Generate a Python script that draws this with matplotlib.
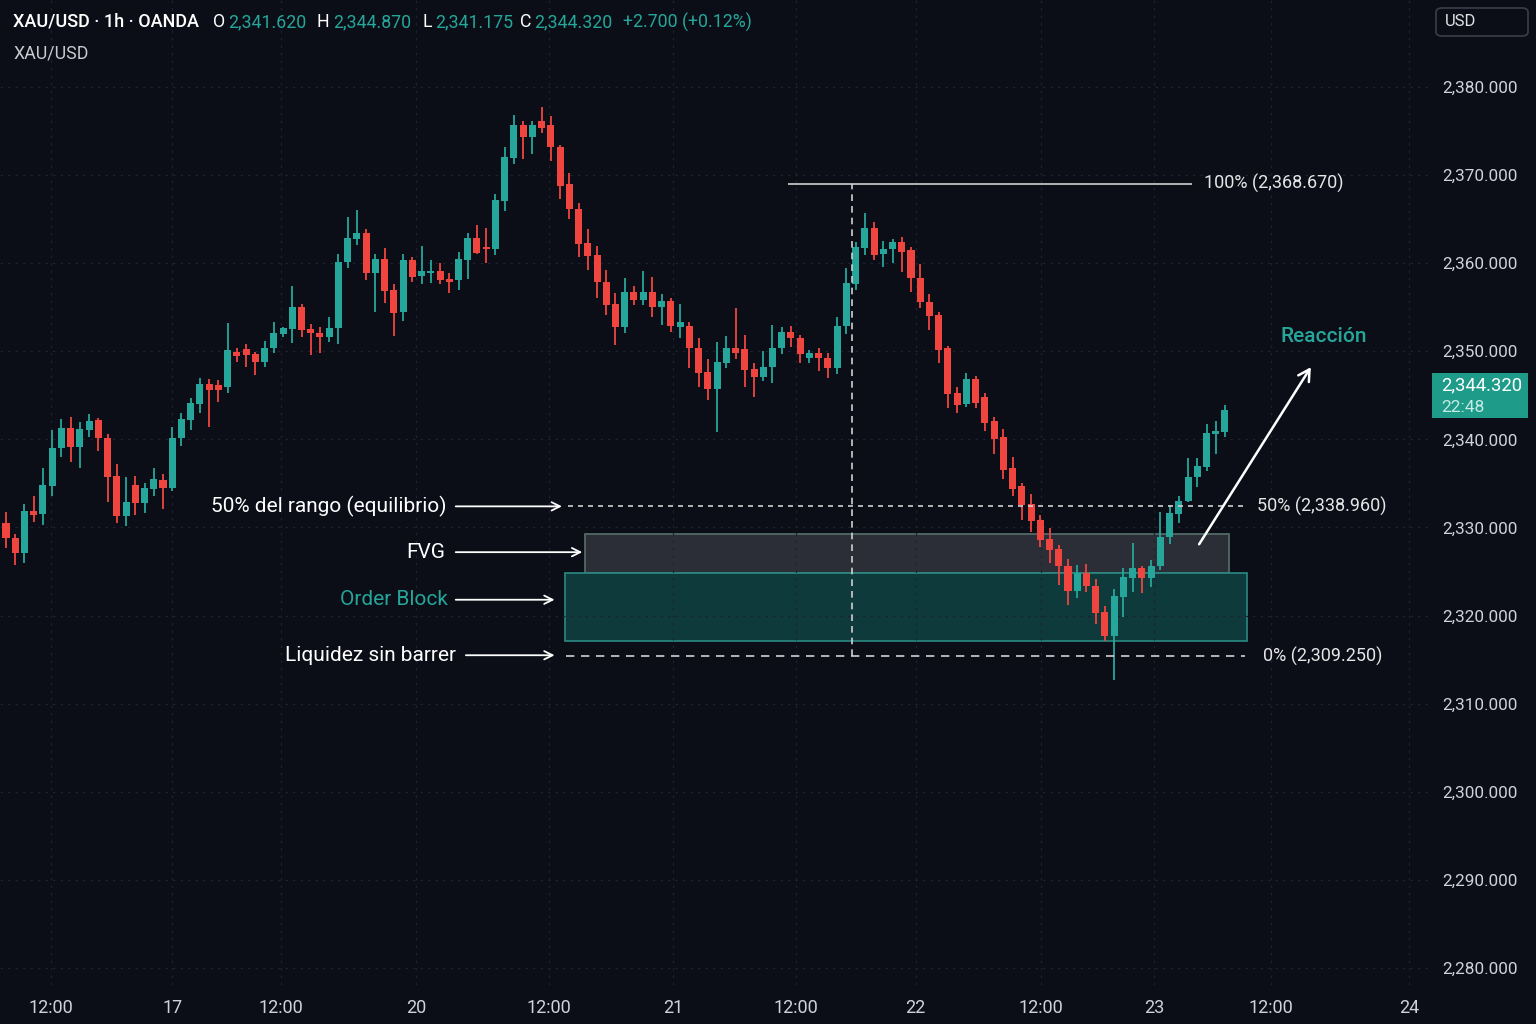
import numpy as np
import matplotlib.pyplot as plt
from matplotlib.patches import Rectangle, FancyBboxPatch

plt.rcParams['font.family'] = ['Roboto', 'DejaVu Sans']

# Velas 1h XAU/USD
o = [2330.5, 2328.8, 2327.1, 2331.9, 2331.5, 2334.7, 2339.0, 2341.3, 2339.1, 2341.1,
     2342.2, 2340.2, 2335.8, 2331.3, 2334.8, 2332.8, 2334.4, 2335.4, 2334.5, 2340.2,
     2342.2, 2344.0, 2346.3, 2346.2, 2345.9, 2349.9, 2350.3, 2349.7, 2348.8, 2350.4,
     2352.0, 2352.5, 2355.0, 2352.5, 2352.1, 2351.6, 2352.6, 2360.1, 2362.8, 2363.4,
     2358.9, 2360.5, 2357.0, 2354.5, 2360.4, 2358.5, 2358.9, 2359.1, 2358.2, 2358.1,
     2360.4, 2362.9, 2361.8, 2361.6, 2367.1, 2371.9, 2375.7, 2374.3, 2376.1, 2375.7,
     2373.2, 2369.0, 2366.2, 2362.3, 2360.9, 2357.9, 2355.4, 2352.8, 2356.7, 2355.8,
     2356.7, 2355.0, 2355.7, 2352.8, 2352.9, 2350.4, 2347.7, 2345.7, 2348.7, 2350.4,
     2350.3, 2348.0, 2347.1, 2348.2, 2350.4, 2352.2, 2351.5, 2349.2, 2349.8, 2349.2,
     2348.1, 2352.9, 2357.6, 2361.7, 2364.0, 2361.0, 2361.6, 2362.4, 2361.5, 2358.3,
     2355.6, 2354.1, 2350.4, 2345.3, 2344.0, 2346.9, 2344.8, 2342.1, 2340.3, 2336.8,
     2334.7, 2332.7, 2330.9, 2328.7, 2327.6, 2325.6, 2322.8, 2324.8, 2323.4, 2320.4,
     2317.7, 2322.1, 2324.3, 2325.4, 2324.3, 2325.6, 2328.9, 2331.5, 2333.0, 2335.7,
     2336.9, 2340.6, 2340.8]
h = [2331.8, 2329.3, 2332.7, 2333.6, 2336.8, 2341.1, 2342.3, 2342.5, 2342.0, 2342.9,
     2342.4, 2340.6, 2337.2, 2335.7, 2335.8, 2335.1, 2336.8, 2336.1, 2341.4, 2343.0,
     2344.7, 2347.0, 2346.8, 2346.7, 2353.2, 2350.4, 2350.8, 2349.9, 2351.2, 2353.3,
     2352.8, 2357.4, 2355.4, 2353.1, 2352.8, 2353.9, 2361.1, 2365.3, 2366.0, 2363.9,
     2361.1, 2361.7, 2357.6, 2361.1, 2360.7, 2361.9, 2360.4, 2360.0, 2358.9, 2361.3,
     2363.4, 2364.3, 2364.0, 2367.8, 2373.2, 2376.8, 2376.1, 2376.1, 2377.7, 2376.7,
     2373.4, 2370.2, 2366.8, 2363.9, 2361.9, 2359.2, 2356.6, 2358.3, 2357.4, 2359.1,
     2358.4, 2356.5, 2356.0, 2355.4, 2353.3, 2351.5, 2349.1, 2351.0, 2351.7, 2354.9,
     2351.8, 2348.7, 2350.0, 2353.0, 2352.8, 2352.9, 2351.8, 2350.1, 2350.4, 2349.8,
     2353.9, 2359.4, 2362.4, 2365.7, 2364.7, 2362.5, 2362.7, 2363.0, 2361.8, 2359.9,
     2356.5, 2354.5, 2350.6, 2346.0, 2347.5, 2347.2, 2345.3, 2342.5, 2341.2, 2338.0,
     2335.1, 2333.8, 2331.4, 2329.9, 2328.0, 2326.4, 2325.7, 2325.9, 2324.1, 2321.1,
     2323.0, 2325.4, 2328.2, 2325.6, 2326.3, 2331.8, 2332.6, 2333.6, 2337.9, 2337.9,
     2341.8, 2342.1, 2343.9]
l = [2327.7, 2325.7, 2326.0, 2330.6, 2330.3, 2333.6, 2338.0, 2337.4, 2336.8, 2340.3,
     2338.7, 2332.9, 2330.5, 2330.2, 2331.4, 2331.6, 2333.6, 2332.1, 2334.1, 2339.3,
     2341.1, 2343.0, 2341.4, 2344.3, 2345.3, 2348.8, 2348.2, 2347.3, 2348.2, 2349.8,
     2351.6, 2350.9, 2351.6, 2349.6, 2349.8, 2351.1, 2350.8, 2359.5, 2362.1, 2358.1,
     2354.5, 2355.5, 2351.7, 2353.4, 2357.9, 2357.6, 2357.7, 2357.6, 2356.6, 2357.0,
     2358.2, 2361.0, 2360.0, 2360.9, 2365.9, 2371.3, 2371.8, 2372.4, 2374.8, 2371.6,
     2367.3, 2365.0, 2360.7, 2359.2, 2356.0, 2354.1, 2350.7, 2352.1, 2355.3, 2355.3,
     2353.9, 2353.0, 2352.2, 2351.5, 2348.1, 2345.9, 2344.5, 2340.8, 2348.1, 2349.1,
     2345.9, 2344.8, 2346.6, 2346.4, 2349.7, 2350.5, 2348.7, 2348.7, 2347.8, 2347.0,
     2347.4, 2352.0, 2357.0, 2360.9, 2360.4, 2359.6, 2360.0, 2359.0, 2356.7, 2354.9,
     2352.4, 2348.7, 2343.6, 2343.0, 2343.7, 2343.6, 2340.9, 2338.3, 2335.5, 2333.6,
     2330.9, 2329.5, 2327.8, 2326.0, 2323.5, 2321.2, 2322.0, 2322.7, 2319.1, 2317.1,
     2312.7, 2319.8, 2322.7, 2322.6, 2323.2, 2325.2, 2328.1, 2330.5, 2332.9, 2334.6,
     2336.4, 2338.3, 2340.3]
c = [2328.8, 2327.1, 2331.9, 2331.4, 2334.8, 2339.0, 2341.3, 2339.1, 2341.2, 2342.1,
     2340.2, 2335.7, 2331.3, 2332.9, 2332.8, 2334.5, 2335.5, 2334.5, 2340.2, 2342.3,
     2344.1, 2346.3, 2345.6, 2345.6, 2350.1, 2349.5, 2349.6, 2348.8, 2350.4, 2352.1,
     2352.6, 2355.0, 2352.4, 2352.1, 2351.6, 2352.6, 2360.1, 2362.9, 2363.4, 2358.9,
     2360.5, 2356.8, 2354.4, 2360.4, 2358.4, 2359.1, 2359.1, 2358.1, 2357.9, 2360.5,
     2362.9, 2361.2, 2361.6, 2367.2, 2372.1, 2375.7, 2374.3, 2375.7, 2375.3, 2373.2,
     2368.8, 2366.2, 2362.2, 2360.8, 2357.9, 2355.3, 2352.8, 2356.7, 2355.8, 2356.7,
     2355.0, 2355.7, 2352.9, 2353.3, 2350.4, 2347.5, 2345.7, 2348.8, 2350.4, 2349.8,
     2347.9, 2347.1, 2348.2, 2350.4, 2352.2, 2351.5, 2349.7, 2349.8, 2349.2, 2348.1,
     2352.9, 2357.7, 2361.8, 2364.0, 2360.9, 2361.6, 2362.4, 2361.3, 2358.3, 2355.6,
     2354.0, 2350.1, 2345.2, 2343.9, 2346.9, 2344.1, 2341.9, 2340.0, 2336.5, 2334.4,
     2332.6, 2330.7, 2328.6, 2327.4, 2325.6, 2322.8, 2324.8, 2323.4, 2320.3, 2317.7,
     2322.2, 2324.4, 2325.4, 2324.3, 2325.6, 2328.9, 2331.6, 2333.0, 2335.7, 2337.0,
     2340.7, 2340.9, 2343.3]

# eje de tiempo (posicion en velas)
xticks = [4.9, 18.0, 29.8, 44.4, 58.8, 72.2, 85.5, 98.5, 112.1, 124.3, 137.0, 151.9]
xlabels = ['12:00', '17', '12:00', '20', '12:00', '21', '12:00', '22', '12:00', '23', '12:00', '24']
yticks = [2280, 2290, 2300, 2310, 2320, 2330, 2340, 2350, 2360, 2370, 2380]

# niveles del rango
nivel_100 = 2369.0
nivel_50 = 2332.4
nivel_0 = 2315.4
fvg = (2324.8, 2329.3)
order_block = (2317.1, 2324.8)
vela_maximo = 91.6

bg = '#0b0e17'
verde = '#26a69a'
rojo = '#f0453f'
blanco = '#e6e6e6'

fig = plt.figure(figsize=(15.36, 10.24), dpi=100)
fig.patch.set_facecolor(bg)
ax = fig.add_axes([0, 1 - 985/1024, 1430/1536, 985/1024])
ax.set_facecolor(bg)
for s in ax.spines.values():
    s.set_visible(False)

x = np.arange(len(o))
o_ = np.array(o); c_ = np.array(c)
colores = np.where(c_ >= o_, verde, rojo)

# zonas
ax.add_patch(Rectangle((62.7, fvg[0]), 132.4 - 62.7, fvg[1] - fvg[0],
                       facecolor='#2b2e36', edgecolor='#55706d', lw=1.2, zorder=1))
ax.add_patch(Rectangle((60.5, order_block[0]), 134.4 - 60.5, order_block[1] - order_block[0],
                       facecolor='#0e3a3b', edgecolor='#2a8a83', lw=1.2, zorder=1))

# velas
ax.vlines(x, l, h, colors=colores, lw=1.3, zorder=3)
alto = np.maximum(np.abs(c_ - o_), 0.25)
ax.bar(x, alto, bottom=np.minimum(o_, c_), width=0.76, color=colores, zorder=4, linewidth=0)

# lineas de niveles
ax.hlines(nivel_100, 84.7, 128.4, color='#d0d0d0', lw=1.2, zorder=5)
ax.hlines(nivel_50, 60.9, 134.5, color='#d0d0d0', lw=1.2, linestyles=(0, (3, 3)), zorder=5)
ax.hlines(nivel_0, 60.6, 134.2, color='#d0d0d0', lw=1.2, linestyles=(0, (5, 4)), zorder=5)
ax.vlines(vela_maximo, nivel_0, nivel_100, color='#d0d0d0', lw=1.2, linestyles=(0, (4, 3)), zorder=5)

ax.text(129.7, nivel_100, '100% (2,368.670)', color=blanco, fontsize=13, va='center', ha='left')
ax.text(135.5, nivel_50, '50% (2,338.960)', color=blanco, fontsize=13, va='center', ha='left')
ax.text(136.1, nivel_0, '0% (2,309.250)', color=blanco, fontsize=13, va='center', ha='left')

# etiquetas de la izquierda con flechas
flecha = dict(arrowstyle='->,head_length=0.6,head_width=0.3', color='white', lw=1.3,
              shrinkA=0, shrinkB=0)
etiquetas = [('50% del rango (equilibrio)', 47.75, nivel_50, 48.7, 60.2, 'white'),
             ('FVG', 47.6, 2327.2, 48.7, 62.4, 'white'),
             ('Order Block', 47.9, 2321.8, 48.7, 59.4, verde),
             ('Liquidez sin barrer', 48.7, 2315.5, 49.8, 59.4, 'white')]
for txt, xt, yt, xa, xb, col in etiquetas:
    ax.text(xt, yt, txt, color=col, fontsize=15, ha='right', va='center')
    ax.annotate('', xy=(xb, yt), xytext=(xa, yt), arrowprops=flecha, zorder=6)

# reaccion
ax.annotate('', xy=(141.3, 2348.2), xytext=(129.2, 2328.1),
            arrowprops=dict(arrowstyle='->,head_length=0.8,head_width=0.45', color='white', lw=1.8,
                            shrinkA=0, shrinkB=0), zorder=6)
ax.text(142.7, 2351.7, 'Reacción', color=verde, fontsize=15, ha='center', va='center', weight='medium')

# ejes
ax.set_xlim(-0.65, 154.2)
ax.set_ylim(2278.07, 2389.875)
ax.yaxis.tick_right()
ax.set_yticks(yticks)
ax.set_yticklabels(['{:,.3f}'.format(v) for v in yticks])
ax.set_xticks(xticks)
ax.set_xticklabels(xlabels)
ax.tick_params(axis='y', length=0, pad=8.5, labelcolor='#cfd2da', labelsize=12.3)
ax.tick_params(axis='x', length=0, pad=10, labelcolor='#cfd2da', labelsize=13)
ax.grid(True, color='#1d2130', lw=0.9, linestyle=(0, (2, 4)), zorder=0)

# cabecera
def fx(px):
    return px / 1536

def fy(py):
    return 1 - py / 1024

fig.text(fx(13), fy(22), 'XAU/USD · 1h · OANDA', color='white', fontsize=13, weight='medium', va='center')
cab = [(213, 'O', 'white'), (228, '2,341.620', verde), (317, 'H', 'white'), (333, '2,344.870', verde),
       (423, 'L', 'white'), (435, '2,341.175', verde), (520, 'C', 'white'), (534, '2,344.320', verde),
       (623, '+2.700 (+0.12%)', verde)]
for px, t, col in cab:
    fig.text(fx(px), fy(22), t, color=col, fontsize=12.8, va='center')
fig.text(fx(13), fy(53), 'XAU/USD', color='#c8cad2', fontsize=12.8, va='center')

# caja USD
fig.add_artist(FancyBboxPatch((fx(1436), fy(36)), fx(92), 28/1024, boxstyle='round,pad=0,rounding_size=0.004',
                              transform=fig.transFigure, facecolor=bg, edgecolor='#3a3e4a', lw=1.2))
fig.text(fx(1445), fy(22), 'USD', color='#e0e2e8', fontsize=12, va='center')

# etiqueta de precio actual
fig.add_artist(Rectangle((fx(1432), fy(418)), fx(96), 45/1024, transform=fig.transFigure,
                         facecolor='#1f9b8a', edgecolor='none'))
fig.text(fx(1441), fy(385), '2,344.320', color='white', fontsize=13.3, va='center')
fig.text(fx(1441), fy(407), '22:48', color='#c5ebe4', fontsize=12.5, va='center')

fig.savefig('out.png', dpi=100, facecolor=bg)
